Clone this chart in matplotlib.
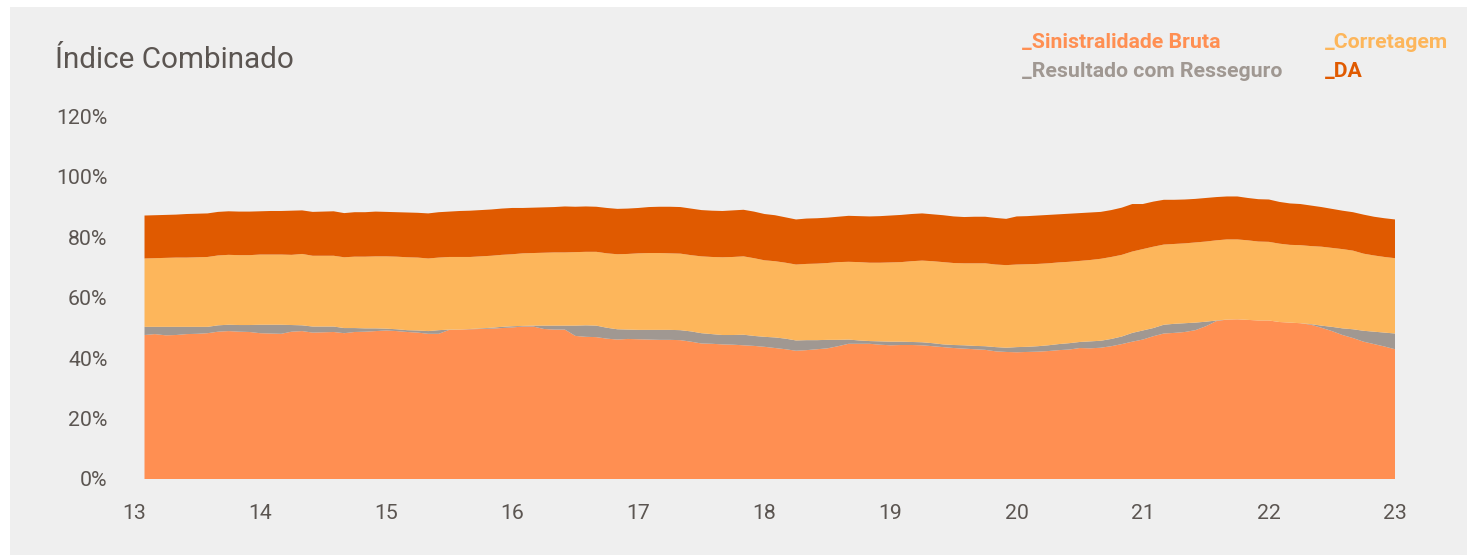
import numpy as np
import matplotlib.pyplot as plt
from matplotlib.patches import Rectangle

# monthly data, Jan/2013 .. Dec/2022 (x axis in years "13".."23")
meses = 13 + np.arange(1, 121) / 12

sinistralidade = [
    47.6, 47.9, 47.5, 47.6, 47.9, 48.0, 48.2, 48.7, 48.9, 48.7, 48.6, 48.2,
    48.1, 48.0, 48.7, 48.9, 48.4, 48.5, 48.6, 48.2, 48.6, 48.7, 48.9, 49.1,
    48.9, 48.6, 48.4, 48.0, 48.0, 49.3, 49.4, 49.5, 49.6, 49.7, 49.9, 50.1,
    50.4, 50.4, 49.6, 49.4, 49.4, 47.3, 47.0, 46.9, 46.4, 46.1, 46.3, 46.2,
    46.1, 46.0, 46.0, 45.9, 45.4, 44.8, 44.7, 44.5, 44.4, 44.2, 44.0, 43.7,
    43.3, 42.9, 42.4, 42.6, 42.9, 43.2, 43.9, 44.7, 44.7, 44.7, 44.4, 44.2,
    44.3, 44.3, 44.2, 43.9, 43.6, 43.3, 43.1, 42.9, 42.7, 42.2, 42.0, 41.9,
    42.0, 42.1, 42.3, 42.6, 42.8, 43.3, 43.2, 43.4, 43.9, 44.6, 45.4, 46.1,
    47.2, 48.1, 48.3, 48.6, 49.2, 50.5, 52.2, 52.7, 52.8, 52.6, 52.4, 52.4,
    51.9, 51.7, 51.5, 51.0, 50.0, 48.9, 47.6, 46.6, 45.4, 44.6, 43.8, 42.9,
]
resseguro = [
    2.7, 2.4, 2.8, 2.7, 2.4, 2.3, 2.1, 2.1, 2.1, 2.2, 2.3, 2.8,
    2.9, 3.0, 2.2, 1.9, 2.0, 1.9, 1.8, 1.7, 1.3, 1.1, 0.9, 0.6,
    0.6, 0.6, 0.7, 0.9, 1.2, 0.1, 0.0, 0.1, 0.2, 0.3, 0.4, 0.4,
    0.2, 0.3, 1.1, 1.3, 1.3, 3.4, 3.8, 3.8, 3.6, 3.4, 3.1, 3.1,
    3.2, 3.3, 3.3, 3.3, 3.4, 3.4, 3.2, 3.1, 3.2, 3.5, 3.3, 3.3,
    3.5, 3.5, 3.4, 3.3, 3.0, 2.8, 2.1, 1.4, 1.1, 0.9, 1.1, 1.2,
    1.1, 1.0, 1.0, 1.0, 0.9, 1.0, 1.1, 1.1, 1.2, 1.4, 1.4, 1.7,
    1.7, 1.8, 1.9, 2.0, 2.1, 2.0, 2.3, 2.3, 2.4, 2.5, 2.9, 3.0,
    2.7, 2.9, 3.0, 2.9, 2.5, 1.5, 0.2, 0.0, 0.0, 0.0, 0.0, 0.0,
    0.0, 0.0, 0.0, 0.2, 0.7, 1.4, 2.2, 2.9, 3.6, 4.1, 4.6, 5.2,
]
corretagem = [
    22.6, 22.7, 22.8, 22.9, 22.9, 23.0, 23.1, 23.1, 23.1, 23.1, 23.1, 23.2,
    23.2, 23.2, 23.2, 23.6, 23.4, 23.4, 23.4, 23.4, 23.6, 23.7, 23.8, 23.9,
    24.0, 24.1, 24.1, 24.0, 24.0, 24.0, 24.0, 23.8, 23.8, 23.8, 23.8, 23.8,
    24.0, 24.0, 24.1, 24.2, 24.2, 24.3, 24.3, 24.4, 24.6, 24.8, 25.0, 25.3,
    25.4, 25.4, 25.3, 25.3, 25.2, 25.4, 25.5, 25.7, 25.8, 25.9, 25.7, 25.3,
    25.2, 25.1, 25.1, 25.2, 25.3, 25.4, 25.7, 25.7, 25.9, 25.9, 26.0, 26.2,
    26.3, 26.7, 27.0, 27.1, 27.2, 27.1, 27.1, 27.3, 27.4, 27.3, 27.3, 27.3,
    27.3, 27.2, 27.1, 27.0, 26.9, 26.8, 26.9, 27.1, 27.1, 27.0, 26.9, 26.9,
    26.9, 26.5, 26.4, 26.4, 26.5, 26.5, 26.5, 26.5, 26.4, 26.3, 26.1, 26.0,
    25.9, 25.7, 25.8, 25.8, 26.1, 26.1, 26.2, 26.0, 25.5, 25.2, 25.0, 24.9,
]
da = [
    14.2, 14.2, 14.2, 14.2, 14.4, 14.4, 14.4, 14.4, 14.4, 14.4, 14.4, 14.3,
    14.4, 14.4, 14.6, 14.4, 14.5, 14.6, 14.7, 14.6, 14.7, 14.7, 14.8, 14.7,
    14.7, 14.8, 14.8, 14.9, 15.0, 15.0, 15.2, 15.3, 15.3, 15.3, 15.3, 15.3,
    15.0, 15.0, 15.0, 15.0, 15.2, 15.0, 15.0, 14.9, 15.0, 15.0, 15.0, 15.0,
    15.2, 15.3, 15.4, 15.4, 15.4, 15.3, 15.3, 15.3, 15.4, 15.4, 15.4, 15.3,
    15.2, 15.0, 14.9, 15.0, 15.0, 15.0, 15.0, 15.2, 15.2, 15.3, 15.4, 15.5,
    15.6, 15.6, 15.6, 15.5, 15.5, 15.4, 15.3, 15.4, 15.4, 15.4, 15.3, 15.9,
    15.9, 16.0, 16.0, 15.9, 15.9, 15.8, 15.7, 15.5, 15.5, 15.6, 15.7, 14.9,
    14.9, 14.8, 14.6, 14.5, 14.4, 14.4, 14.3, 14.2, 14.2, 14.0, 14.0, 14.0,
    13.8, 13.7, 13.6, 13.4, 13.1, 12.9, 12.7, 12.7, 12.9, 12.8, 12.8, 12.8,
]

cores = ['#FF8F52', '#A09892', '#FDB65B', '#E05A00']
nomes = ['_Sinistralidade Bruta', '_Resultado com Resseguro', '_Corretagem', '_DA']
txt = '#5B5551'

plt.rcParams['font.family'] = ['Roboto', 'DejaVu Sans']

fig = plt.figure(figsize=(14.67, 5.55), dpi=100)
fig.patch.set_facecolor('white')
fig.patches.append(Rectangle((10 / 1467, 0), 1, 548 / 555, transform=fig.transFigure,
                             facecolor='#EFEFEF', edgecolor='none', zorder=-10))

ax = fig.add_axes([134 / 1467, 76 / 555, 1261 / 1467, 363 / 555])
ax.set_facecolor('none')
ax.stackplot(meses, sinistralidade, resseguro, corretagem, da,
             colors=cores, linewidth=0, antialiased=True)

ax.set_xlim(13, 23)
ax.set_ylim(0, 120)
ax.set_xticks(range(13, 24))
ax.set_yticks(range(0, 121, 20))
ax.set_yticklabels([f'{v}%' for v in range(0, 121, 20)])
ax.tick_params(length=0, labelsize=15.3, colors=txt)
ax.tick_params(axis='x', pad=18)
ax.tick_params(axis='y', pad=19)
for s in ax.spines.values():
    s.set_visible(False)

fig.text(55 / 1467, 1 - 68 / 555, 'Índice Combinado', fontsize=21.3, color=txt,
         va='baseline', ha='left')

# legenda em texto
pos = [(1022, 48), (1022, 77), (1325, 48), (1325, 77)]
for i in range(4):
    x, y = pos[i]
    fig.text(x / 1467, 1 - y / 555, nomes[i], fontsize=15.3, fontweight='bold',
             color=cores[i], va='baseline', ha='left')

plt.savefig('out.png', dpi=100)
